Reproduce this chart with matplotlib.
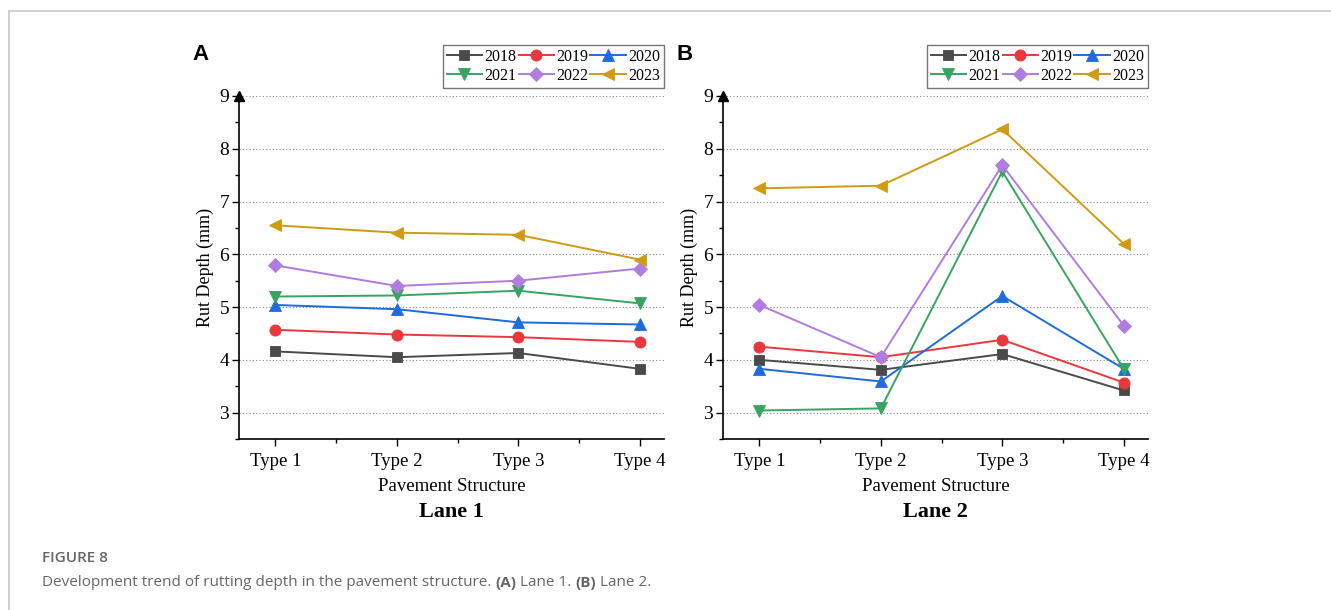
import matplotlib
matplotlib.use("Agg")
import matplotlib.pyplot as plt
from matplotlib.lines import Line2D
from matplotlib.ticker import MultipleLocator

# donnees
types = ["Type 1", "Type 2", "Type 3", "Type 4"]
years = ["2018", "2019", "2020", "2021", "2022", "2023"]

lane1_2018 = [4.16, 4.05, 4.13, 3.83]
lane1_2019 = [4.57, 4.48, 4.43, 4.34]
lane1_2020 = [5.04, 4.96, 4.71, 4.67]
lane1_2021 = [5.20, 5.22, 5.31, 5.07]
lane1_2022 = [5.79, 5.40, 5.50, 5.73]
lane1_2023 = [6.55, 6.41, 6.37, 5.90]

lane2_2018 = [4.00, 3.81, 4.11, 3.42]
lane2_2019 = [4.25, 4.05, 4.38, 3.57]
lane2_2020 = [3.83, 3.59, 5.21, 3.83]
lane2_2021 = [3.04, 3.08, 7.57, 3.83]
lane2_2022 = [5.04, 4.05, 7.69, 4.65]
lane2_2023 = [7.25, 7.30, 8.37, 6.20]

colors = ["#4a4a4a", "#e8383d", "#1f6bd9", "#37a462", "#b07ce0", "#d09a12"]
markers = ["s", "o", "^", "v", "D", "<"]
msizes = [7, 8, 8, 8, 7, 8]

serif = "Liberation Serif"

fig = plt.figure(figsize=(13.31, 6.10), dpi=100)
W, H = 1331.0, 610.0


def panel(left_px, letter, lane, series):
    ax = fig.add_axes([left_px / W, 1 - 439 / H, 425 / W, 343 / H])
    x = [1, 2, 3, 4]
    handles = []
    for i in range(len(years)):
        h, = ax.plot(x, series[i], color=colors[i], marker=markers[i], markersize=msizes[i],
                     linewidth=1.4, label=years[i], markeredgewidth=0.6,
                     markeredgecolor=colors[i], zorder=3 + i)
        handles.append(h)
    ax.set_xlim(0.7, 4.2)
    ax.set_ylim(2.5, 9)
    ax.set_xticks(x)
    ax.set_xticklabels(types, fontfamily=serif, fontsize=13.5)
    ax.xaxis.set_minor_locator(MultipleLocator(0.5))
    ax.set_yticks([3, 4, 5, 6, 7, 8, 9])
    ax.set_yticklabels(["3", "4", "5", "6", "7", "8", "9"], fontfamily=serif, fontsize=14)
    ax.yaxis.set_minor_locator(MultipleLocator(0.5))
    ax.tick_params(which="major", direction="out", length=5, width=1)
    ax.tick_params(which="minor", direction="out", length=3, width=1)
    ax.tick_params(axis="x", which="major", pad=5)
    ax.tick_params(axis="y", which="major", pad=2)
    ax.spines["top"].set_visible(False)
    ax.spines["right"].set_visible(False)
    ax.spines["left"].set_linewidth(1.2)
    ax.spines["bottom"].set_linewidth(1.2)
    ax.grid(axis="y", which="major", linestyle=(0, (1, 2)), color="#888888", linewidth=0.8)
    ax.set_axisbelow(True)
    # fleche en haut de l'axe y
    ax.plot([0], [1.0], marker="^", color="black", markersize=7, transform=ax.transAxes,
            clip_on=False, zorder=10)
    ax.set_ylabel("Rut Depth (mm)", fontfamily=serif, fontsize=13, labelpad=4)
    ax.set_xlabel("Pavement Structure", fontfamily=serif, fontsize=13.5, labelpad=6)
    ax.text(0.5, -0.212, lane, transform=ax.transAxes, ha="center", va="center",
            fontfamily=serif, fontsize=16, fontweight="bold")
    fig.text((left_px - 47) / W, 1 - 55 / H, letter, ha="left", va="center",
             fontfamily="Liberation Sans", fontsize=16, fontweight="bold")
    # ordre ligne par ligne comme dans Origin
    order = [0, 3, 1, 4, 2, 5]
    leg = ax.legend(handles=[handles[k] for k in order], ncol=3, loc="upper right",
                    bbox_to_anchor=(1.0, 1.149),
                    prop={"family": serif, "size": 11.5}, frameon=True, fancybox=False,
                    edgecolor="#555555", handlelength=2.2, handletextpad=0.15,
                    columnspacing=0.15, borderpad=0.25, labelspacing=0.2, borderaxespad=0,
                    markerscale=1.0)
    leg.get_frame().set_linewidth(1.0)
    return ax


panel(239, "A", "Lane 1", [lane1_2018, lane1_2019, lane1_2020, lane1_2021, lane1_2022, lane1_2023])
panel(723, "B", "Lane 2", [lane2_2018, lane2_2019, lane2_2020, lane2_2021, lane2_2022, lane2_2023])

# cadre de la carte
fig.add_artist(Line2D([9 / W, 1.0], [1 - 11 / H, 1 - 11 / H], color="#c8c8c8", linewidth=1.2))
fig.add_artist(Line2D([9 / W, 9 / W], [0.0, 1 - 11 / H], color="#c8c8c8", linewidth=1.2))

# legende de la figure
fig.text(42 / W, 1 - 558 / H, "FIGURE 8", ha="left", va="center", fontfamily="Open Sans",
         fontsize=11, fontweight="semibold", color="#666666")

pieces = [("Development trend of rutting depth in the pavement structure. ", "normal"),
          ("(A)", "bold"), (" Lane 1. ", "normal"), ("(B)", "bold"), (" Lane 2.", "normal")]
renderer = fig.canvas.get_renderer()
xpos = 42.0
for txt, wt in pieces:
    t = fig.text(xpos / W, 1 - 583 / H, txt, ha="left", va="center", fontfamily="Open Sans",
                 fontsize=11, fontweight=wt, color="#666666")
    bb = t.get_window_extent(renderer=renderer)
    xpos += bb.width

fig.savefig("out.png", dpi=100)
